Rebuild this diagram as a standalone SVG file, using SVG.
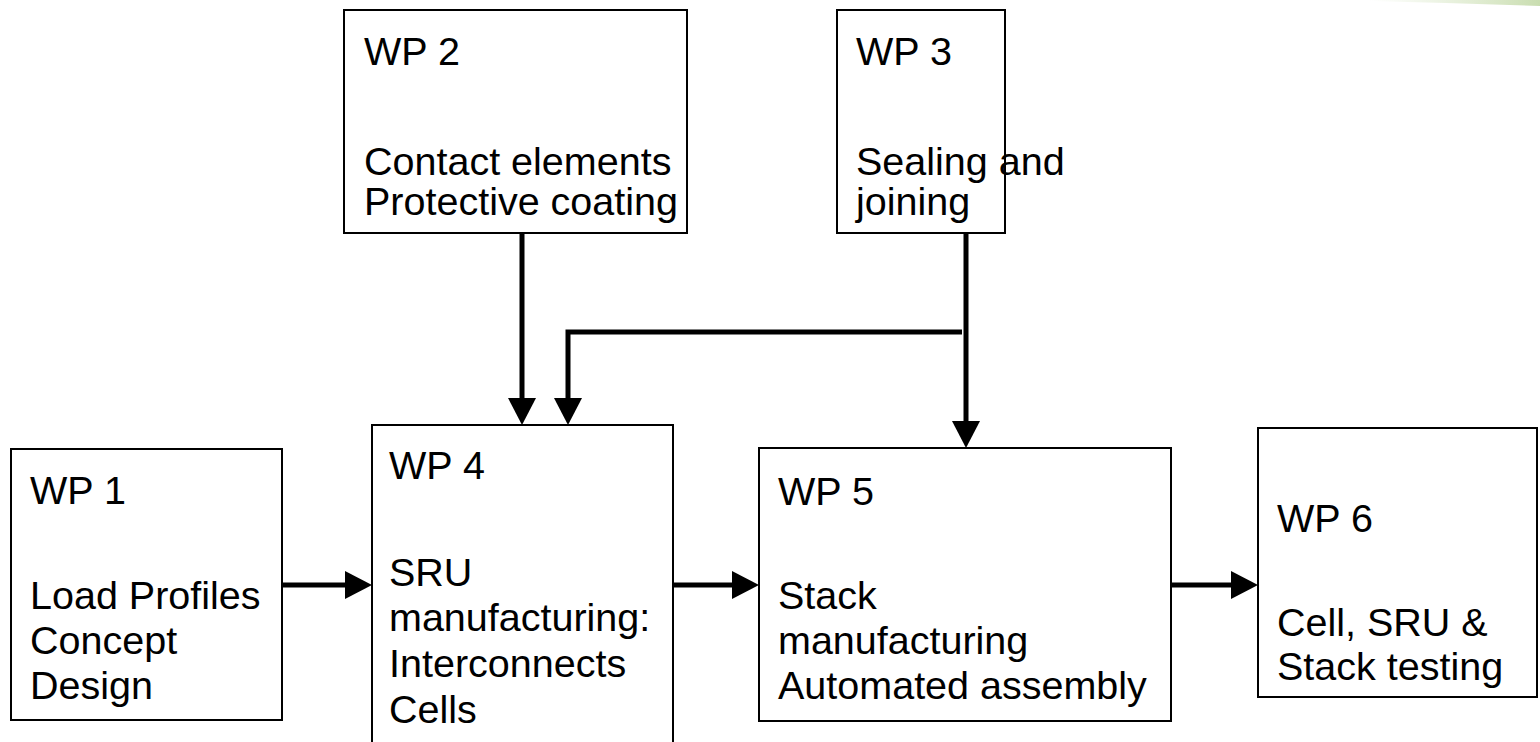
<svg xmlns="http://www.w3.org/2000/svg" width="1540" height="742" viewBox="0 0 1540 742">
<defs>
<style>
.box{fill:#fff;stroke:#000;stroke-width:2}
.t{font-family:"Liberation Sans",Arial,sans-serif;font-size:39.5px;fill:#000}
.c{fill:none;stroke:#000;stroke-width:5}
</style>
<marker id="ah" markerUnits="userSpaceOnUse" markerWidth="28" markerHeight="30" refX="0" refY="14" orient="auto" overflow="visible">
<path d="M0,0 L27,14 L0,28 Z" fill="#000"/>
</marker>
<linearGradient id="gr" x1="0" y1="0" x2="1" y2="0">
<stop offset="0" stop-color="#d6e6c2" stop-opacity="0"/>
<stop offset="1" stop-color="#c9ddb0"/>
</linearGradient>
</defs>
<rect width="1540" height="742" fill="#fff"/>
<path d="M1370,0 L1540,0 L1540,6 Q1450,3 1370,1 Z" fill="url(#gr)"/>
<g id="connectors">
<path class="c" d="M282,585 H345" marker-end="url(#ah)"/>
<path class="c" d="M673,585 H732" marker-end="url(#ah)"/>
<path class="c" d="M1171,585 H1231" marker-end="url(#ah)"/>
<path class="c" d="M522,233 V398" marker-end="url(#ah)"/>
<path class="c" d="M966,233 V421" marker-end="url(#ah)"/>
<path class="c" d="M962,332 H568 V398" marker-end="url(#ah)"/>
</g>
<g id="wp1">
<rect class="box" x="11" y="449" width="271" height="271"/>
<text class="t" x="30" y="504">WP 1</text>
<text class="t" x="30" y="609">Load Profiles</text>
<text class="t" x="30" y="654">Concept</text>
<text class="t" x="30" y="699">Design</text>
</g>
<g id="wp2">
<rect class="box" x="344" y="10" width="343" height="223"/>
<text class="t" x="364" y="65">WP 2</text>
<text class="t" x="364" y="175">Contact elements</text>
<text class="t" x="364" y="215">Protective coating</text>
</g>
<g id="wp3">
<rect class="box" x="837" y="10" width="168" height="223"/>
<text class="t" x="856" y="65">WP 3</text>
<text class="t" x="856" y="175">Sealing and</text>
<text class="t" x="856" y="215">joining</text>
</g>
<g id="wp4">
<rect class="box" x="372" y="425" width="301" height="330"/>
<text class="t" x="389" y="479">WP 4</text>
<text class="t" x="389" y="586">SRU</text>
<text class="t" x="389" y="631">manufacturing:</text>
<text class="t" x="389" y="677">Interconnects</text>
<text class="t" x="389" y="723">Cells</text>
</g>
<g id="wp5">
<rect class="box" x="759" y="448" width="412" height="273"/>
<text class="t" x="778" y="505">WP 5</text>
<text class="t" x="778" y="609">Stack</text>
<text class="t" x="778" y="654">manufacturing</text>
<text class="t" x="778" y="699">Automated assembly</text>
</g>
<g id="wp6">
<rect class="box" x="1258" y="428" width="279" height="269"/>
<text class="t" x="1277" y="532">WP 6</text>
<text class="t" x="1277" y="636">Cell, SRU &amp;</text>
<text class="t" x="1277" y="680">Stack testing</text>
</g>
</svg>
